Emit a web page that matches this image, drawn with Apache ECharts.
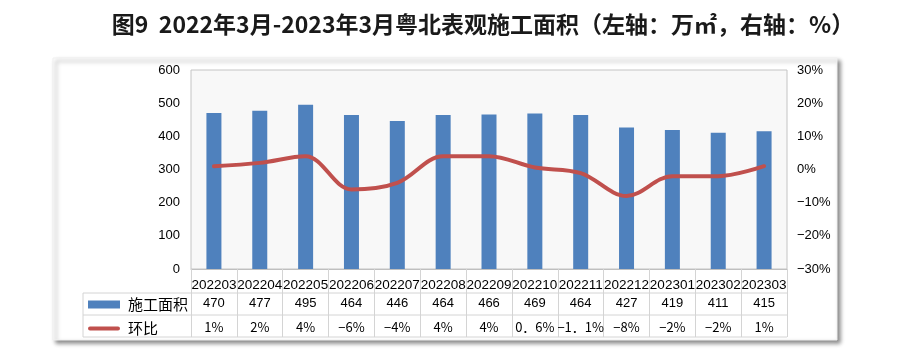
<!DOCTYPE html>
<html><head><meta charset="utf-8">
<script src="https://cdn.jsdelivr.net/npm/echarts@6/dist/echarts.min.js"></script>
<style>html,body{margin:0;padding:0;background:#fff}#c{width:900px;height:363px}</style>
</head><body><div id="c"></div>
<script>
var titleText = '图9  2022年3月-2023年3月粤北表观施工面积（左轴：万㎡，右轴：%）';
var categories = ['202203','202204','202205','202206','202207','202208','202209','202210','202211','202212','202301','202302','202303'];
var areaValues = [470,477,495,464,446,464,466,469,464,427,419,411,415];
var changeValues = [1,2,4,-6,-4,4,4,0.6,-1.1,-8,-2,-2,1];
var changeLabels = ['1%','2%','4%','−6%','−4%','4%','4%','0．6%','−1．1%','−8%','−2%','−2%','1%'];
var areaName = '施工面积';
var changeName = '环比';

var chart = echarts.init(document.getElementById('c'), null, {renderer:'canvas'});
var numFont = '"Liberation Sans", Arial, sans-serif';
var cjkFont = '"Noto Sans CJK SC", sans-serif';
var hidden = {show:false};
function rowAxis(data, margin, font){
  return {type:'category', gridIndex:0, position:'bottom', data:data,
    axisLine:hidden, axisTick:hidden, splitLine:hidden,
    axisLabel:{interval:0, margin:margin, color:'#000', fontSize:13, fontFamily:font}};
}
chart.setOption({
  animation:false,
  backgroundColor:'#fff',
  title:{text:titleText, left:478, top:8, textAlign:'center',
    textStyle:{fontSize:23, fontWeight:'bold', color:'#1a1a1a', fontFamily:cjkFont}},
  graphic:[
    {type:'rect', z:-10, shape:{x:53,y:58,width:784,height:282},
      style:{fill:'#fff', stroke:'#f0f0f0', lineWidth:1, shadowBlur:4, shadowOffsetX:3, shadowOffsetY:3, shadowColor:'rgba(0,0,0,0.45)'}},
    {type:'polyline', z:5, shape:{points:[[83,293],[787,293]]}, style:{stroke:'#d4d4d4', lineWidth:1}},
    {type:'polyline', z:5, shape:{points:[[83,315],[787,315]]}, style:{stroke:'#d4d4d4', lineWidth:1}},
    {type:'polyline', z:5, shape:{points:[[83,337],[787,337]]}, style:{stroke:'#d4d4d4', lineWidth:1}},
    {type:'polyline', z:5, shape:{points:[[83,293],[83,337]]}, style:{stroke:'#d4d4d4', lineWidth:1}}
  ],
  legend:{orient:'vertical', left:88, top:297, padding:0, itemGap:9, itemWidth:32, itemHeight:8,
    textStyle:{fontSize:15, color:'#000', fontFamily:cjkFont, padding:[0,0,0,3]},
    data:[{name:areaName, icon:'rect'},
          {name:changeName, icon:'path://M0,0M32,8M2,2L30,2A2,2,0,0,1,30,6L2,6A2,2,0,0,1,2,2Z', itemStyle:{color:'#c0504d'}}]},
  grid:{left:191, right:113, top:70, bottom:94, show:true, backgroundColor:'#f8f8f8', borderColor:'#c4c4c4', borderWidth:1},
  xAxis:[
    {type:'category', data:categories, boundaryGap:true,
      axisLine:{lineStyle:{color:'#bfbfbf'}},
      axisTick:{show:true, interval:0, length:68, lineStyle:{color:'#d4d4d4'}},
      axisLabel:{interval:0, margin:9, color:'#000', fontSize:13.5, fontFamily:numFont}},
    rowAxis(areaValues.map(String), 28, numFont),
    rowAxis(changeLabels, 52, cjkFont)
  ],
  yAxis:[
    {type:'value', min:0, max:600, interval:100, splitLine:hidden,
      axisLine:hidden, axisTick:hidden,
      axisLabel:{margin:11, color:'#000', fontSize:13, fontFamily:numFont}},
    {type:'value', min:-30, max:30, interval:10, splitLine:hidden,
      axisLine:hidden, axisTick:hidden,
      axisLabel:{margin:10, color:'#000', fontSize:13, fontFamily:numFont,
        formatter:function(v){return (v<0?'−'+(-v):v)+'%';}}}
  ],
  series:[
    {name:areaName, type:'bar', data:areaValues, barWidth:15, itemStyle:{color:'#4f81bd'}, xAxisIndex:0, yAxisIndex:0},
    {name:changeName, type:'line', data:changeValues, yAxisIndex:1, xAxisIndex:0, smooth:0.35, symbol:'none',
      lineStyle:{color:'#c0504d', width:4, cap:'round'}, itemStyle:{color:'#c0504d'}, z:3}
  ]
});
</script></body></html>
